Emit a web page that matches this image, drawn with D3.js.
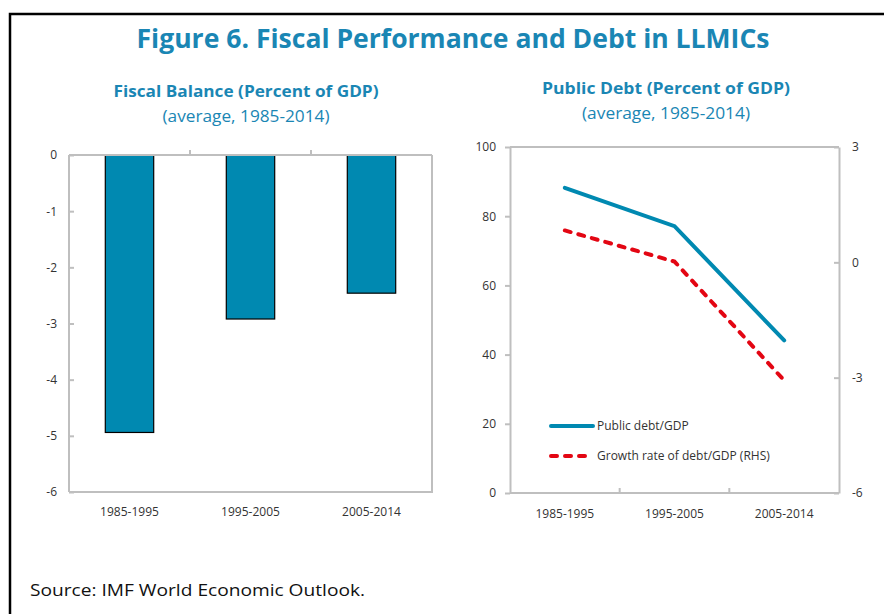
<!DOCTYPE html>
<meta charset="utf-8">
<title>Figure 6. Fiscal Performance and Debt in LLMICs</title>
<style>
body {
  margin: 0;
  background: #fff;
  font-family: "Open Sans", "Noto Sans", sans-serif;
}
svg text { fill: #333; }
.axis path, .axis line { stroke: #bfbfbf; stroke-width: 2px; }
.axis text { font-size: 12px; fill: #333; font-family: "Open Sans", sans-serif; }
</style>
<body>
<script src="https://cdn.jsdelivr.net/npm/d3@7/dist/d3.min.js"></script>
<script>
'use strict';

// data
const periods = ["1985-1995", "1995-2005", "2005-2014"];
const fiscalBalance = [-4.94, -2.92, -2.46];
const publicDebt = [88.2, 77.1, 44.1];
const debtGrowth = [0.83, 0.02, -3.07];

const balanceTicks = [0, -1, -2, -3, -4, -5, -6];
const debtTicks = [0, 20, 40, 60, 80, 100];
const growthTicks = [-6, -3, 0, 3];

const blue = "#0089b1",
      red = "#e30613",
      titleBlue = "#1a86b4",
      grey = "#bfbfbf";

const W = 884, H = 614;

// plain hyphen for negatives, like the original
var fmt = function(d) { return String(d); };

const svg = d3.select("body").append("svg")
    .attr("width", W)
    .attr("height", H);

// outer frame (runs off the right and bottom)
svg.append("path")
    .attr("d", "M10,640V14H900")
    .attr("fill", "none")
    .attr("stroke", "#000")
    .attr("stroke-width", 2.5);

svg.append("text")
    .attr("x", 453).attr("y", 48)
    .attr("text-anchor", "middle")
    .attr("textLength", 633).attr("lengthAdjust", "spacingAndGlyphs")
    .style("font-size", "27px").style("font-weight", "bold")
    .style("fill", titleBlue)
    .text("Figure 6. Fiscal Performance and Debt in LLMICs");

var subtitle = function(cx, y, main, w1, w2) {
  svg.append("text")
      .attr("x", cx).attr("y", y)
      .attr("text-anchor", "middle")
      .attr("textLength", w1).attr("lengthAdjust", "spacingAndGlyphs")
      .style("font-size", "16px").style("font-weight", "bold")
      .style("fill", titleBlue)
      .text(main);
  svg.append("text")
      .attr("x", cx).attr("y", y + 25)
      .attr("text-anchor", "middle")
      .attr("textLength", w2).attr("lengthAdjust", "spacingAndGlyphs")
      .style("font-size", "16px")
      .style("fill", titleBlue)
      .text("(average, 1985-2014)");
};
subtitle(246, 97, "Fiscal Balance (Percent of GDP)", 265, 167);
subtitle(666, 94, "Public Debt (Percent of GDP)", 248, 168);

// ---------- left: bars ----------
const L = {x0: 69, x1: 432, y0: 155, y1: 492};

const xBar = d3.scaleBand().domain(periods).range([L.x0, L.x1])
    .paddingInner(0.6).paddingOuter(0.3);
const xEdge = d3.scaleBand().domain(periods).range([L.x0, L.x1]);
const yBal = d3.scaleLinear().domain([-6, 0]).range([L.y1, L.y0]);

const gl = svg.append("g");

gl.selectAll("rect.bar")
    .data(fiscalBalance)
  .enter().append("rect")
    .attr("class", "bar")
    .attr("x", (d, i) => xBar(periods[i]))
    .attr("width", xBar.bandwidth())
    .attr("y", yBal(0))
    .attr("height", (d) => yBal(d) - yBal(0))
    .attr("fill", blue)
    .attr("stroke", "#000")
    .attr("stroke-width", 1.2);

// frame
gl.append("path")
    .attr("d", `M${L.x1},${yBal(0)}V${L.y1}H${L.x0}`)
    .attr("fill", "none").attr("stroke", grey).attr("stroke-width", 2);

gl.append("g")
    .attr("class", "axis")
    .attr("transform", `translate(${L.x0},0)`)
    .call(d3.axisLeft(yBal).tickValues(balanceTicks).tickFormat(fmt)
      .tickSizeInner(-5).tickSizeOuter(0).tickPadding(12))
    .call((g) => g.select(".domain").attr("d", `M0,${L.y0}V${L.y1}`));

// zero line with category boundary ticks
const zeroAxis = gl.append("g").attr("class", "axis")
    .attr("transform", `translate(0,${yBal(0)})`);
zeroAxis.append("line").attr("x1", L.x0).attr("x2", L.x1);
zeroAxis.selectAll("line.tk")
    .data(periods.slice(1))
  .enter().append("line")
    .attr("class", "tk")
    .attr("x1", (d) => xEdge(d)).attr("x2", (d) => xEdge(d))
    .attr("y1", 0).attr("y2", -5);

gl.selectAll("text.cat")
    .data(periods)
  .enter().append("text")
    .attr("class", "cat")
    .attr("x", (d) => xBar(d) + xBar.bandwidth() / 2)
    .attr("y", 516)
    .attr("text-anchor", "middle")
    .style("font-size", "12px")
    .text((d) => d);

// ---------- right: lines ----------
const R = {x0: 510, x1: 839, y0: 147, y1: 493};

const xPt = d3.scalePoint().domain(periods).range([R.x0, R.x1]).padding(0.5);
const xEdgeR = d3.scaleBand().domain(periods).range([R.x0, R.x1]);
const yDebt = d3.scaleLinear().domain([0, 100]).range([R.y1, R.y0]);
const yGrowth = d3.scaleLinear().domain([-6, 3]).range([R.y1, R.y0]);

const gr = svg.append("g");

gr.append("path")
    .attr("d", `M${R.x0},${R.y0}H${R.x1}`)
    .attr("stroke", grey).attr("stroke-width", 2);

gr.append("g")
    .attr("class", "axis")
    .attr("transform", `translate(${R.x0},0)`)
    .call(d3.axisLeft(yDebt).tickValues(debtTicks).tickFormat(fmt)
      .tickSizeInner(5).tickSizeOuter(0).tickPadding(9));

gr.append("g")
    .attr("class", "axis")
    .attr("transform", `translate(${R.x1},0)`)
    .call(d3.axisRight(yGrowth).tickValues(growthTicks).tickFormat(fmt)
      .tickSizeInner(-5).tickSizeOuter(0).tickPadding(13));

const bottom = gr.append("g").attr("class", "axis")
    .attr("transform", `translate(0,${R.y1})`);
bottom.append("line").attr("x1", R.x0).attr("x2", R.x1);
bottom.selectAll("line.tk")
    .data(periods.slice(1))
  .enter().append("line")
    .attr("class", "tk")
    .attr("x1", (d) => xEdgeR(d)).attr("x2", (d) => xEdgeR(d))
    .attr("y1", 0).attr("y2", -5);

gr.selectAll("text.cat")
    .data(periods)
  .enter().append("text")
    .attr("class", "cat")
    .attr("x", (d) => xPt(d))
    .attr("y", 518)
    .attr("text-anchor", "middle")
    .style("font-size", "12px")
    .text((d) => d);

const debtLine = d3.line()
    .x((d, i) => xPt(periods[i]))
    .y((d) => yDebt(d));
const growthLine = d3.line()
    .x((d, i) => xPt(periods[i]))
    .y((d) => yGrowth(d));

gr.append("path")
    .attr("d", debtLine(publicDebt))
    .attr("fill", "none").attr("stroke", blue)
    .attr("stroke-width", 4).attr("stroke-linecap", "round");

gr.append("path")
    .attr("d", growthLine(debtGrowth))
    .attr("fill", "none").attr("stroke", red)
    .attr("stroke-width", 4).attr("stroke-linecap", "round")
    .attr("stroke-dasharray", "6,8");

// legend
const legend = [
  {label: "Public debt/GDP", color: blue, dash: null, y: 426},
  {label: "Growth rate of debt/GDP  (RHS)", color: red, dash: "6,8", y: 456}
];
const lg = gr.selectAll("g.leg")
    .data(legend)
  .enter().append("g")
    .attr("class", "leg");
lg.append("line")
    .attr("x1", 551).attr("x2", 593)
    .attr("y1", (d) => d.y).attr("y2", (d) => d.y)
    .attr("stroke", (d) => d.color)
    .attr("stroke-width", 4).attr("stroke-linecap", "round")
    .attr("stroke-dasharray", (d) => d.dash);
lg.append("text")
    .attr("x", 597)
    .attr("y", (d) => d.y + 4)
    .style("font-size", "12px")
    .text((d) => d.label);

svg.append("text")
    .attr("x", 30).attr("y", 596)
    .attr("textLength", 335).attr("lengthAdjust", "spacingAndGlyphs")
    .style("font-size", "17px").style("fill", "#111")
    .text("Source: IMF World Economic Outlook.");

</script>
</body>
